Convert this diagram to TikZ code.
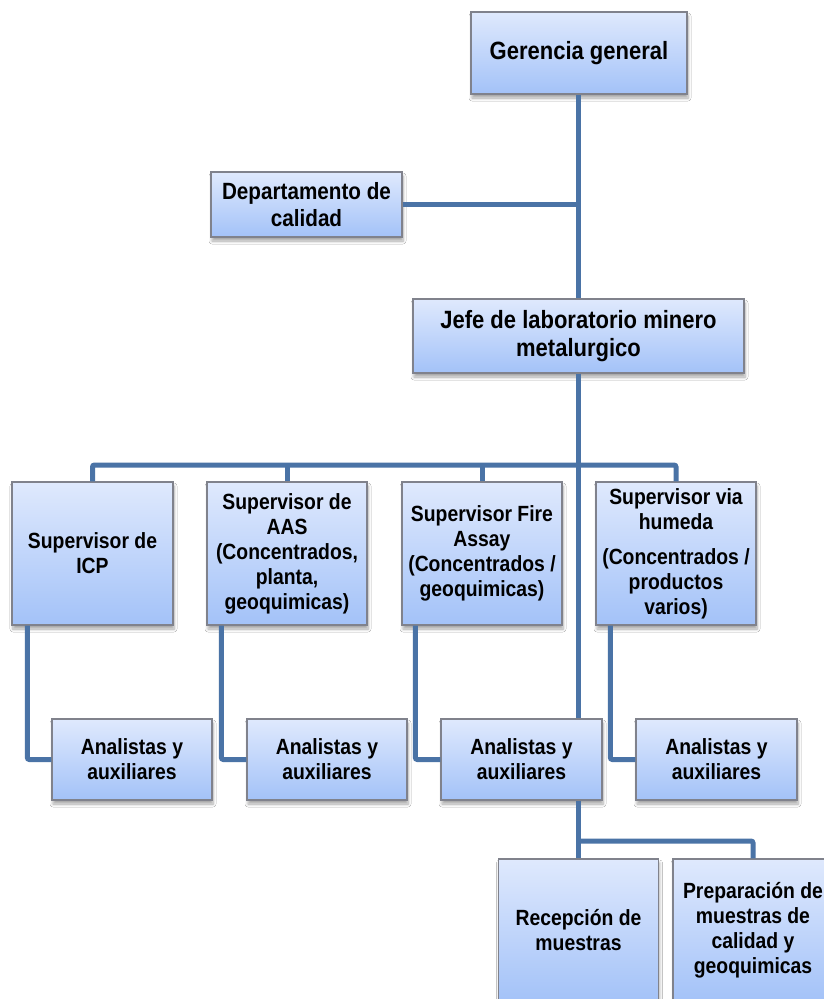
\documentclass[tikz,border=0pt]{standalone}
\usepackage{fontspec}
\setmainfont[FakeStretch=0.88]{Liberation Sans}
\usetikzlibrary{shadows.blur}
\definecolor{boxtop}{RGB}{223,233,253}
\definecolor{boxbot}{RGB}{163,194,248}
\definecolor{boxline}{RGB}{128,130,140}
\definecolor{connc}{RGB}{74,115,166}
\tikzset{
  box/.style={draw=boxline, line width=1.3pt, top color=boxtop, bottom color=boxbot,
    align=center, inner sep=0pt, font=\bfseries\fontsize{22}{25}\selectfont,
    blur shadow={shadow xshift=1pt, shadow yshift=-4pt, shadow blur steps=6, shadow blur radius=3pt, shadow opacity=35}},
  bigtext/.style={font=\bfseries\fontsize{25}{28}\selectfont},
  midtext/.style={font=\bfseries\fontsize{23.5}{27}\selectfont},
  conn/.style={draw=connc, line width=5pt, rounded corners=2pt},
}
\begin{document}
\begin{tikzpicture}[x=1pt,y=-1pt]
\useasboundingbox (0,0) rectangle (824,999);
\fill[white] (0,0) rectangle (824,999);
% nodes
\node[box, bigtext, minimum width=216pt, minimum height=82pt] (ger) at (579,53) {Gerencia general};
\node[box, midtext, minimum width=191pt, minimum height=65pt] (dept) at (306.5,204.5) {Departamento de\\calidad};
\node[box, bigtext, minimum width=331pt, minimum height=74pt] (jefe) at (578.5,336) {Jefe de laboratorio minero\\metalurgico};
\node[box, minimum width=161pt, minimum height=143pt] (sup1) at (92.5,553.5) {Supervisor de\\ICP};
\node[box, minimum width=160pt, minimum height=143pt] (sup2) at (287,553.5) {Supervisor de\\AAS\\(Concentrados,\\planta,\\geoquimicas)};
\node[box, minimum width=160pt, minimum height=143pt] (sup3) at (482,553.5) {Supervisor Fire\\Assay\\(Concentrados /\\geoquimicas)};
\node[box, minimum width=160pt, minimum height=143pt] (sup4) at (676,553.5) {Supervisor via\\humeda\\[10pt](Concentrados /\\productos\\varios)};
\node[box, minimum width=160pt, minimum height=81pt] (an1) at (132,759.5) {Analistas y\\auxiliares};
\node[box, minimum width=160pt, minimum height=81pt] (an2) at (327,759.5) {Analistas y\\auxiliares};
\node[box, minimum width=161pt, minimum height=81pt] (an3) at (521.5,759.5) {Analistas y\\auxiliares};
\node[box, minimum width=161pt, minimum height=81pt] (an4) at (716.5,759.5) {Analistas y\\auxiliares};
\node[box, minimum width=160pt, minimum height=143pt] (rec) at (578.5,930.5) {Recepción de\\muestras};
\node[box, minimum width=160pt, minimum height=143pt] (prep) at (753,930.5) {Preparación de\\muestras de\\calidad y\\geoquimicas};
% coordinates
\coordinate (trunk) at (578.5,0);
\coordinate (bus) at (578.5,465);
\coordinate (bus2) at (578.5,841);
% connectors
\draw[conn] (trunk |- ger.south) -- (trunk |- jefe.north);
\draw[conn] (dept.east) -- (dept.east -| trunk);
\draw[conn] (trunk |- jefe.south) -- (trunk |- an3.north);
\draw[conn] (sup1.north) -- (sup1.north |- bus) -- (sup4.north |- bus) -- (sup4.north);
\draw[conn] (sup2.north) -- (sup2.north |- bus);
\draw[conn] (sup3.north) -- (sup3.north |- bus);
\draw[conn] ([xshift=16pt]sup1.south west) |- (an1.west);
\draw[conn] ([xshift=15pt]sup2.south west) |- (an2.west);
\draw[conn] ([xshift=14pt]sup3.south west) |- (an3.west);
\draw[conn] ([xshift=15pt]sup4.south west) |- (an4.west);
\draw[conn] (trunk |- an3.south) -- (trunk |- rec.north);
\draw[conn] (trunk |- bus2) -- (prep.north |- bus2) -- (prep.north);
\end{tikzpicture}
\end{document}
